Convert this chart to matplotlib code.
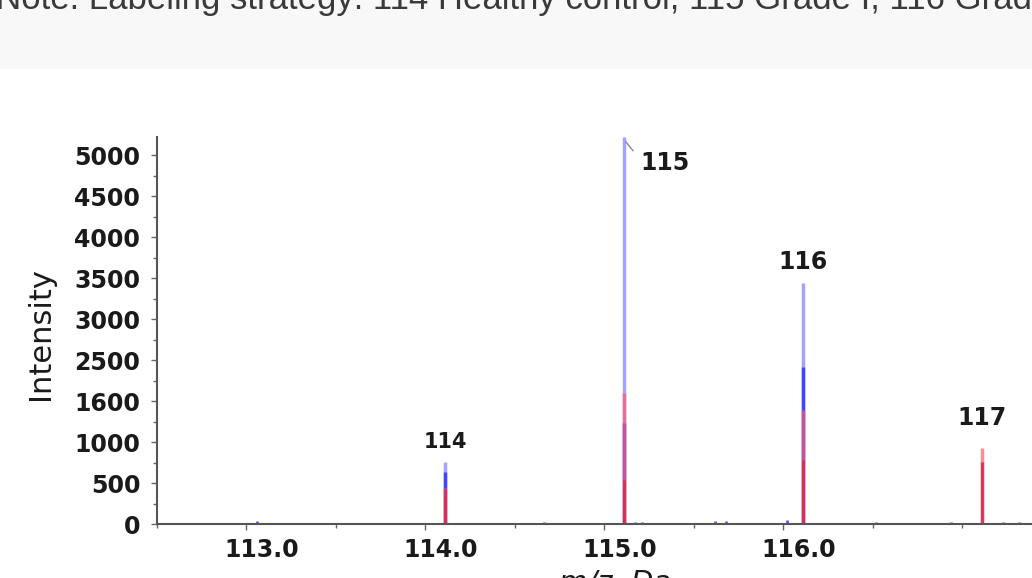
import numpy as np
import matplotlib
matplotlib.use('Agg')
import matplotlib.pyplot as plt
import matplotlib.transforms as mtransforms
from matplotlib.patches import Rectangle

# reporter ion peaks (m/z) and intensities
mz_peaks = [114.11, 115.11, 116.11, 117.11]
blue_tall = [840, 5240, 3270, 840]      # light blue trace
blue_mid = [700, 1370, 2130, 0]         # darker blue trace
red_tall = [490, 1780, 1550, 1030]      # red trace
red_low = [480, 600, 870, 840]

# small baseline noise
noise_mz = [113.06, 114.66, 115.17, 115.21, 115.62, 115.68, 116.02, 116.52, 116.94, 117.23, 117.32]
noise_int = [35, 30, 30, 30, 35, 35, 60, 25, 30, 30, 30]

peak_labels = ['114', '115', '116', '117']
label_x = [114.11, 115.34, 116.11, 117.11]
label_y = [1110, 4890, 3550, 1440]
label_size = [15, 17, 17, 17]

# tick labels as printed (evenly spaced on the axis)
ytick_text = ['0', '500', '1000', '1600', '2500', '3000', '3500', '4000', '4500', '5000']
xtick_vals = [113.0, 114.0, 115.0, 116.0]
xtick_text = ['113.0', '114.0', '115.0', '116.0']

W, H = 1032, 578
fig = plt.figure(figsize=(W / 100, H / 100), dpi=100)
fig.patches.append(Rectangle((0, 1 - 68 / H), 1, 68 / H, transform=fig.transFigure,
                             color='#f8f8f8', zorder=0))
fig.text(-0.004, 1 - 9 / H,
         'Note: Labeling strategy: 114 Healthy control, 115 Grade I, 116 Grade II, 117 Grade III',
         fontsize=25, color='#3a3a3a', family='Liberation Sans', va='baseline', ha='left')

ax = fig.add_axes([157 / W, 1 - 524 / H, 1 - 157 / W, (524 - 137) / H])
ax.set_xlim(112.53, 117.39)
ax.set_ylim(0, 5245)

ax.vlines(noise_mz, 0, noise_int, color='#3030ff', lw=2, alpha=0.8)
ax.vlines(mz_peaks, 0, blue_tall, color='#9a9aff', lw=2.5, alpha=0.9)
ax.vlines(mz_peaks, 0, blue_mid, color='#3a3aff', lw=2.5, alpha=0.9)
ax.vlines(mz_peaks, 0, red_tall, color='#ff5a6a', lw=2.5, alpha=0.7)
ax.vlines(mz_peaks, 0, red_low, color='#e8203a', lw=2, alpha=0.8)

for t, x, y, s in zip(peak_labels, label_x, label_y, label_size):
    ax.text(x, y, t, fontsize=s, fontweight='bold', color='#1a1a1a', ha='center', va='center')
ax.plot([115.12, 115.16], [5180, 5060], color='#888888', lw=1)

for side in ['top', 'right']:
    ax.spines[side].set_visible(False)
for side in ['left', 'bottom']:
    ax.spines[side].set_color('#555555')
    ax.spines[side].set_linewidth(1.5)

ax.set_yticks(np.linspace(0, 5000, len(ytick_text)))
ax.set_yticklabels(ytick_text)
ax.set_yticks(np.linspace(0, 5000, 2 * (len(ytick_text) - 1) + 1), minor=True)
ax.set_xticks(xtick_vals)
ax.set_xticklabels(xtick_text)
ax.set_xticks(np.arange(112.5, 117.5, 0.5), minor=True)
ax.tick_params(axis='both', which='major', labelsize=17, length=4, width=1, color='#666666',
               labelcolor='#1a1a1a')
ax.tick_params(axis='both', which='minor', length=3, width=1, color='#666666')
ax.tick_params(axis='y', pad=8)
ax.tick_params(axis='x', pad=6)
for lab in ax.get_yticklabels() + ax.get_xticklabels():
    lab.set_fontweight('bold')
offset = mtransforms.ScaledTranslation(15 / 100, 0, fig.dpi_scale_trans)
for lab in ax.get_xticklabels():
    lab.set_transform(lab.get_transform() + offset)

fig.text(40 / W, 1 - 334 / H, 'Intensity', rotation=90, fontsize=22, color='#1a1a1a',
         ha='center', va='center')
fig.text(615 / W, 1 - 569 / H, 'm/z, Da', fontsize=21, color='#1a1a1a',
         ha='center', va='top', style='italic')

fig.savefig('out.png', dpi=100)
